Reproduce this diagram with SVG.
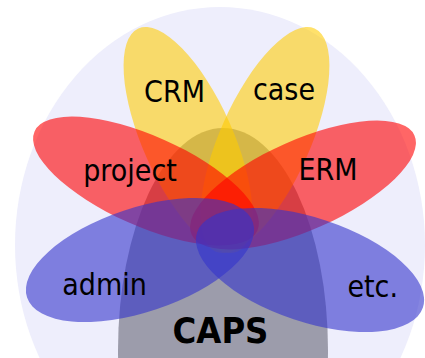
<svg xmlns="http://www.w3.org/2000/svg" width="425" height="358" viewBox="0 0 425 358">
<style>
.bg{fill:#EEEEFC}
.gray{fill:#656575;fill-opacity:0.6}
.yel{fill:#FFCC00;fill-opacity:0.58}
.red{fill:#FF0000;fill-opacity:0.6}
.blu{fill:#3333CC;fill-opacity:0.6}
.lbl{font-family:"DejaVu Sans Condensed","DejaVu Sans",sans-serif;font-stretch:condensed;font-size:30px;fill:#000;text-anchor:middle}
.big{font-family:"DejaVu Sans Condensed","DejaVu Sans",sans-serif;font-stretch:condensed;font-size:36px;font-weight:bold;fill:#000;text-anchor:middle}
</style>
<ellipse class="bg" cx="220" cy="245" rx="205" ry="238"/>
<g id="caps">
<ellipse class="gray" cx="223" cy="350" rx="105" ry="222"/>
</g>
<g id="crm">
<ellipse class="yel" cx="188" cy="140" rx="45" ry="122" transform="rotate(-24 188 140)"/>
</g>
<g id="case">
<ellipse class="yel" cx="265" cy="140" rx="45" ry="122" transform="rotate(24 265 140)"/>
</g>
<g id="project">
<ellipse class="red" cx="146" cy="181" rx="122" ry="45" transform="rotate(24 146 181)"/>
</g>
<g id="erm">
<ellipse class="red" cx="303" cy="185" rx="122" ry="45" transform="rotate(-24 303 185)"/>
</g>
<g id="admin">
<ellipse class="blu" cx="140" cy="260" rx="119" ry="52" transform="rotate(-18.4 140 260)"/>
</g>
<g id="etc">
<ellipse class="blu" cx="310" cy="270" rx="119" ry="52" transform="rotate(18.4 310 270)"/>
</g>
<g id="connectors"></g>
<g id="labels">
<text class="lbl" x="174.5" y="102">CRM</text>
<text class="lbl" x="284" y="100">case</text>
<text class="lbl" x="130" y="181">project</text>
<text class="lbl" x="328" y="180">ERM</text>
<text class="lbl" x="104.5" y="295">admin</text>
<text class="lbl" x="372.7" y="297">etc.</text>
<text class="big" x="220.5" y="343">CAPS</text>
</g>
</svg>
